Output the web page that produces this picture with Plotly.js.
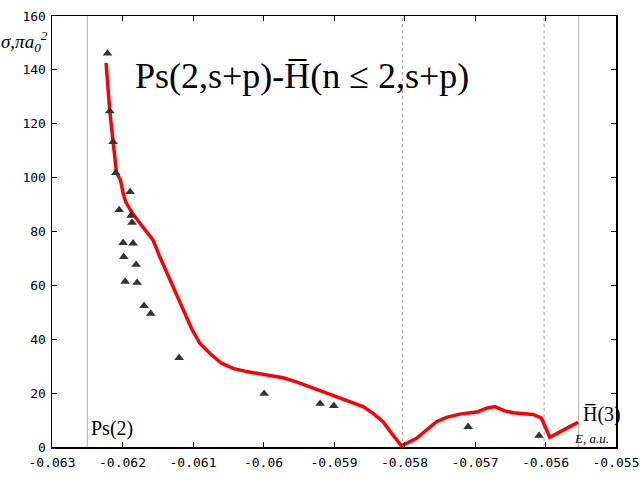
<!DOCTYPE html>
<html>
<head>
<meta charset="utf-8">
<script src="https://cdn.plot.ly/plotly-3.0.1.min.js"></script>
<style>
  body { margin: 0; background: #fff; }
  #gd { width: 640px; height: 480px; }
</style>
</head>
<body>
<div id="gd"></div>
<script>
// theory curve (red)
const curve_x = [-0.062233, -0.062180, -0.062133, -0.062085, -0.062028, -0.061991, -0.061953, -0.061872,
  -0.061779, -0.061637, -0.061566, -0.061471, -0.061329, -0.061187, -0.061102, -0.061017, -0.060904,
  -0.060762, -0.060596, -0.060431, -0.060241, -0.060006, -0.059722, -0.059532, -0.059248, -0.059013,
  -0.058776, -0.058587, -0.058445, -0.058304, -0.058184, -0.058043, -0.057830, -0.057546, -0.057404,
  -0.057216, -0.056956, -0.056837, -0.056719, -0.056577, -0.056459, -0.056176, -0.056057, -0.055939,
  -0.055702, -0.055537]
const curve_y = [142.6, 124.7, 113.3, 101.8, 99.1, 94.2, 90.9, 87.3,
  84.0, 79.5, 76.8, 70.6, 62.0, 53.3, 48.6, 43.8, 38.5,
  34.8, 31.1, 29.2, 28.0, 27.1, 25.7, 24.2, 21.4, 19.0,
  16.8, 15.0, 12.5, 9.4, 5.1, 0.4, 3.2, 9.4, 11.0,
  12.2, 13.1, 14.4, 15.0, 13.4, 12.7, 12.1, 10.7, 3.6,
  6.9, 9.2]

// other calculation (triangles)
const tri_x = [-0.062213, -0.062180, -0.062133, -0.062095, -0.061892, -0.062048, -0.061878, -0.061864,
  -0.061991, -0.061850, -0.061982, -0.061807, -0.061963, -0.061793, -0.061694, -0.061599,
  -0.061197, -0.059991, -0.059197, -0.059003, -0.057098, -0.056091]
const tri_y = [146.1, 124.7, 113.3, 101.8, 94.7, 88.0, 85.9, 83.3,
  75.8, 75.6, 70.6, 67.7, 61.4, 61.0, 52.4, 49.5,
  33.1, 19.8, 16.1, 15.3, 7.5, 4.2]

// thresholds
const solid_lines = [-0.0625, -0.05553]
const dotted_lines = [-0.05803, -0.05602]

const x_ticks = [-0.063, -0.062, -0.061, -0.06, -0.059, -0.058, -0.057, -0.056, -0.055]
const x_labels = ['-0.063', '-0.062', '-0.061', '-0.06', '-0.059', '-0.058', '-0.057', '-0.056', '-0.055']

const serif = 'Liberation Serif, Times New Roman, serif'
const mono = 'DejaVu Sans Mono, monospace'

const data = [{
  x: curve_x,
  y: curve_y,
  mode: 'lines',
  type: 'scatter',
  line: {color: '#ff0000', width: 3.5},
  hoverinfo: 'none'
}, {
  x: tri_x,
  y: tri_y,
  mode: 'markers',
  type: 'scatter',
  marker: {symbol: 'triangle-up', size: 8.5, color: '#333333'},
  hoverinfo: 'none'
}]

const shapes = []
solid_lines.forEach(function (v) {
  shapes.push({type: 'line', xref: 'x', yref: 'paper', x0: v, x1: v, y0: 0, y1: 1, layer: 'below',
    line: {color: '#b0b0b0', width: 1}})
})
dotted_lines.forEach(function (v) {
  shapes.push({type: 'line', xref: 'x', yref: 'paper', x0: v, x1: v, y0: 0, y1: 1, layer: 'below',
    line: {color: '#a0a0a0', width: 1, dash: 'dot'}})
})

const axis = {
  showgrid: false,
  zeroline: false,
  showline: true,
  mirror: 'ticks',
  linecolor: '#000',
  linewidth: 1.5,
  ticks: 'inside',
  ticklen: 5,
  tickcolor: '#000',
  tickfont: {family: mono, size: 13, color: '#000'}
}

const layout = {
  width: 640,
  height: 480,
  margin: {l: 52, r: 24, t: 16, b: 33},
  paper_bgcolor: '#fff',
  plot_bgcolor: '#fff',
  showlegend: false,
  shapes: shapes,
  xaxis: Object.assign({}, axis, {range: [-0.063, -0.055], tickvals: x_ticks, ticktext: x_labels, ticklabelstandoff: 3}),
  yaxis: Object.assign({}, axis, {range: [0, 160], dtick: 20, ticklabelstandoff: 2}),
  annotations: [
    {xref: 'paper', yref: 'paper', x: 0.443, y: 0.861, xanchor: 'center', yanchor: 'middle', showarrow: false,
      text: 'Ps(2,s+p)-H\u0305(n \u2264 2,s+p)', font: {family: serif, size: 36, color: '#000'}},
    {xref: 'paper', yref: 'paper', x: -0.003, y: 0.94, xanchor: 'right', yanchor: 'middle', showarrow: false,
      text: '<i>\u03c3,\u03c0a<sub>0</sub><sup>2</sup></i>', font: {family: serif, size: 19, color: '#000'}},
    {xref: 'paper', yref: 'paper', x: 0.107, y: 0.044, xanchor: 'center', yanchor: 'middle', showarrow: false,
      text: 'Ps(2)', font: {family: serif, size: 20, color: '#000'}},
    {xref: 'paper', yref: 'paper', x: 0.975, y: 0.076, xanchor: 'center', yanchor: 'middle', showarrow: false,
      text: 'H\u0305(3)', font: {family: serif, size: 20, color: '#000'}},
    {xref: 'paper', yref: 'paper', x: 0.957, y: 0.019, xanchor: 'center', yanchor: 'middle', showarrow: false,
      text: '<i>E, a.u.</i>', font: {family: serif, size: 13, color: '#000'}}
  ]
}

Plotly.newPlot('gd', data, layout, {staticPlot: true})
</script>
</body>
</html>
